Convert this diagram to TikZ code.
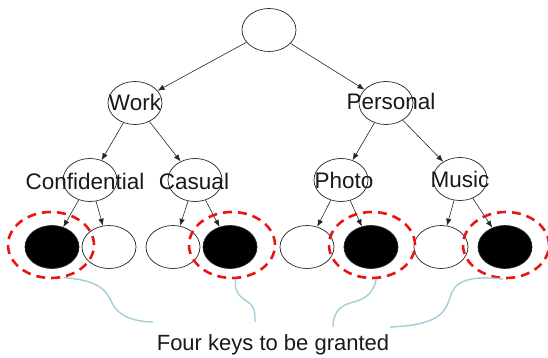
\documentclass[tikz,border=0pt]{standalone}
\usepackage{fontspec}
\setmainfont{Liberation Sans}
\usetikzlibrary{arrows.meta,shapes.geometric}
\definecolor{keyline}{RGB}{160,208,214}
\definecolor{ringred}{RGB}{235,20,20}
\begin{document}
\begin{tikzpicture}[x=1pt,y=-1pt,
  treenode/.style={ellipse, draw=black!85, line width=0.7pt, fill=white,
    minimum width=54pt, minimum height=43pt, inner sep=0pt},
  grantnode/.style={treenode, fill=black},
  lbl/.style={font=\fontsize{22.5}{26}\selectfont, inner sep=0pt, text=black!90},
  edge/.style={-{Latex[length=7pt,width=5.5pt]}, line width=0.6pt, draw=black!85},
  ring/.style={ellipse, draw=ringred, line width=2.6pt, dash pattern=on 9pt off 6pt,
    minimum width=86pt, minimum height=66pt, inner sep=0pt},
  link/.style={draw=keyline, line width=1.4pt}
]
\useasboundingbox (0,0) rectangle (548,358);

% tree nodes
\node[treenode] (root) at (269,30) {};
\node[treenode] (work) at (135,103) {};
\node[treenode] (pers) at (386,103) {};
\node[treenode] (conf) at (90,180) {};
\node[treenode] (casu) at (195,180) {};
\node[treenode] (phot) at (341,180) {};
\node[treenode] (musi) at (460,179) {};

% leaves
\node[grantnode] (l1) at (52,247) {};
\node[treenode]  (l2) at (109,247) {};
\node[treenode]  (l3) at (173,247) {};
\node[grantnode] (l4) at (230,247) {};
\node[treenode]  (l5) at (307,247) {};
\node[grantnode] (l6) at (371,247) {};
\node[treenode]  (l7) at (441,247) {};
\node[grantnode] (l8) at (505,247) {};

% labels
\node[lbl] (tw) at (135,102) {Work};
\node[lbl] (tp) at (391,101) {Personal};
\node[lbl] (tc) at (85,181) {Confidential};
\node[lbl] (ts) at (194,181) {Casual};
\node[lbl] (tf) at (344,180) {Photo};
\node[lbl] (tm) at (460,179) {Music};

% arrows
\draw[edge] (root) -- (work);
\draw[edge] (root) -- (pers);
\draw[edge] (work) -- (conf);
\draw[edge] (work) -- (casu);
\draw[edge] (pers) -- (phot);
\draw[edge] (pers) -- (musi);
\draw[edge] (conf) -- (l1);
\draw[edge] (conf) -- (l2);
\draw[edge] (casu) -- (l3);
\draw[edge] (casu) -- (l4);
\draw[edge] (phot) -- (l5);
\draw[edge] (phot) -- (l6);
\draw[edge] (musi) -- (l7);
\draw[edge] (musi) -- (l8);

% rings around the granted keys
\node[ring] (r1) at (51,245) {};
\node[ring] (r4) at (232,245) {};
\node[ring] (r6) at (372,245) {};
\node[ring] (r8) at (506,245) {};

% caption and its links
\node[lbl, font=\fontsize{22}{26}\selectfont] (cap) at (273,345) {Four keys to be granted};
\coordinate (c1) at (153,322);
\coordinate (c4) at (255,322);
\coordinate (c6) at (333,327);
\coordinate (c8) at (390,327);

\draw[link] (r1.-68) .. controls (95,280) and (106,288) .. (112,303)
  .. controls (118,316) and (135,322) .. (c1);
\draw[link] (r4.-84) .. controls (234,292) and (240,297) .. (248,302)
  .. controls (256,308) and (255,315) .. (c4);
\draw[link] (r6.-83) .. controls (373,296) and (362,300) .. (350,303)
  .. controls (337,307) and (333,316) .. (c6);
\draw[link] (r8.-95) .. controls (480,276) and (458,278) .. (452,292)
  .. controls (446,308) and (446,325) .. (c8);
\end{tikzpicture}
\end{document}
